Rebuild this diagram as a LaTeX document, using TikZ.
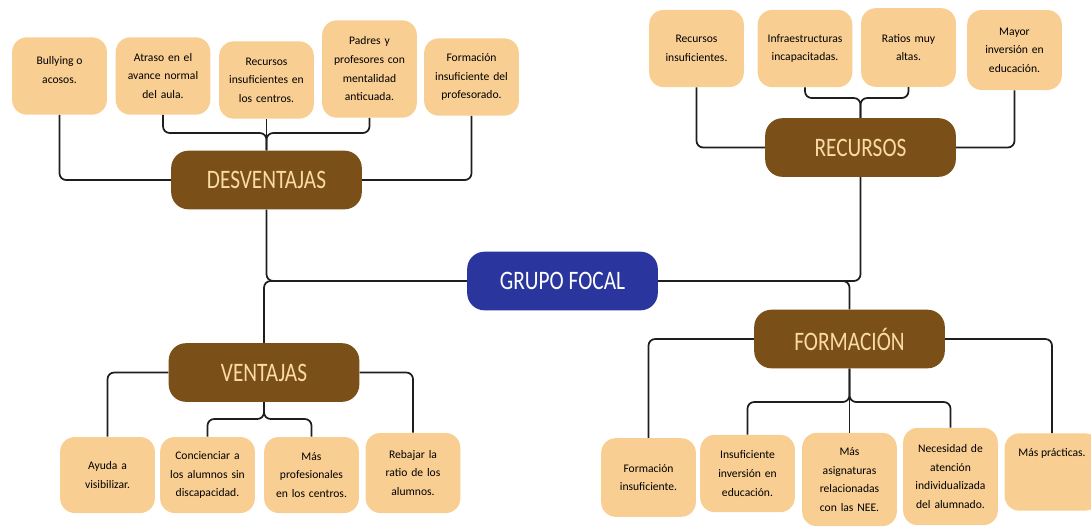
\documentclass[tikz,border=0pt]{standalone}
\usepackage{fontspec}
\setmainfont{Carlito}
\newfontfamily\headfamily[FakeStretch=0.8]{Carlito}
\usepackage{xcolor}
\definecolor{leafbg}{RGB}{249,206,146}
\definecolor{headbg}{RGB}{122,80,24}
\definecolor{headfg}{RGB}{250,218,165}
\definecolor{rootbg}{RGB}{42,54,158}
\definecolor{linescolor}{RGB}{30,30,30}

\begin{document}
\begin{tikzpicture}[x=0.75pt, y=0.75pt, yscale=-1,
	leaf/.style={fill=leafbg, rounded corners=11pt, minimum width=71pt, minimum height=58pt,
		text width=67pt, align=center, inner sep=2pt, font=\fontsize{8.7}{14}\selectfont},
	head/.style={fill=headbg, text=headfg, rounded corners=13pt, minimum width=143pt,
		minimum height=44pt, font=\headfamily\fontsize{20}{20}\selectfont},
	root/.style={head, fill=rootbg, text=white},
	conn/.style={draw=linescolor, line width=1.3pt, rounded corners=5pt}]

\useasboundingbox (0,0) rectangle (1091,526);

% centre
\node [root] (grupo) at (562.5,281) {GRUPO FOCAL};

% desventajas
\node [head] (desv) at (266.5,180) {DESVENTAJAS};
\node [leaf,label={[anchor=north,yshift=-11pt,align=center,font=\fontsize{8.7}{14}\selectfont]90:Bullying o\\acosos.}] (bul) at (59.5,76) {};
\node [leaf] (atr) at (163,76) {Atraso en el\\avance normal\\del aula.};
\node [leaf] (rec) at (266.5,80) {Recursos\\insuficientes en\\los centros.};
\node [leaf,minimum height=73pt] (pad) at (369.5,69) {Padres y\\profesores con\\mentalidad\\anticuada.};
\node [leaf] (fprof) at (471.5,77) {Formación\\insuficiente del\\profesorado.};
\coordinate (jd) at (266.5,133);

\draw [conn] (bul.south) |- (desv.west);
\draw [conn] (fprof.south) |- (desv.east);
\draw [conn] (atr.south) |- (jd) -- (desv.north);
\draw [conn] (pad.south) |- (jd) -- (desv.north);
\draw [conn] (rec.south) -- (desv.north);

% recursos
\node [head] (recu) at (860.5,147.5) {RECURSOS};
\node [leaf] (rins) at (696.5,48.5) {Recursos\\insuficientes.};
\node [leaf] (infra) at (805,48.5) {Infraestructuras\\incapacitadas.};
\node [leaf,minimum height=59pt] (ratios) at (908.5,47.5) {Ratios muy\\altas.};
\node [leaf,minimum height=60pt] (mayor) at (1014.5,50) {Mayor\\inversión en\\educación.};
\coordinate (jr) at (860.5,98);

\draw [conn] (rins.south) |- (recu.west);
\draw [conn] (mayor.south) |- (recu.east);
\draw [conn] (infra.south) |- (jr) -- (recu.north);
\draw [conn] (ratios.south) |- (jr) -- (recu.north);

% ventajas
\node [head] (vent) at (264,372.5) {VENTAJAS};
\node [leaf,minimum height=57pt] (ayu) at (107.5,475) {Ayuda a\\visibilizar.};
\node [leaf,minimum height=57pt] (conc) at (207.5,475) {Concienciar a\\los alumnos sin\\discapacidad.};
\node [leaf,minimum height=57pt] (mprof) at (311.5,475) {Más\\profesionales\\en los centros.};
\node [leaf,minimum height=60pt] (reb) at (413,473) {Rebajar la\\ratio de los\\alumnos.};
\coordinate (jv) at (264,419);

\draw [conn] (ayu.north) |- (vent.west);
\draw [conn] (reb.north) |- (vent.east);
\draw [conn] (conc.north) |- (jv) -- (vent.south);
\draw [conn] (mprof.north) |- (jv) -- (vent.south);

% formacion
\node [head] (form) at (849.5,339) {FORMACIÓN};
\node [leaf,minimum height=59pt] (fins) at (648.5,477.5) {Formación\\insuficiente.};
\node [leaf] (iinv) at (747.5,473.5) {Insuficiente\\inversión en\\educación.};
\node [leaf,minimum height=70pt] (masig) at (849.5,479.5) {Más\\asignaturas\\relacionadas\\con las NEE.};
\node [leaf,minimum height=73pt] (nec) at (950.5,476.5) {Necesidad de\\atención\\individualizada\\del alumnado.};
\node [leaf,label={[anchor=north,yshift=-8pt,font=\fontsize{8.7}{14}\selectfont]90:Más prácticas.}] (prac) at (1052,472) {};
\coordinate (jf) at (849.5,402);

\draw [conn] (fins.north) |- (form.west);
\draw [conn] (prac.north) |- (form.east);
\draw [conn] (iinv.north) |- (jf) -- (form.south);
\draw [conn] (nec.north) |- (jf) -- (form.south);
\draw [conn] (masig.north) -- (form.south);

% to the centre
\draw [conn] (desv.south) |- (grupo.west);
\draw [conn] (vent.north) |- (grupo.west);
\draw [conn] (recu.south) |- (grupo.east);
\draw [conn] (form.north) |- (grupo.east);

\end{tikzpicture}
\end{document}
